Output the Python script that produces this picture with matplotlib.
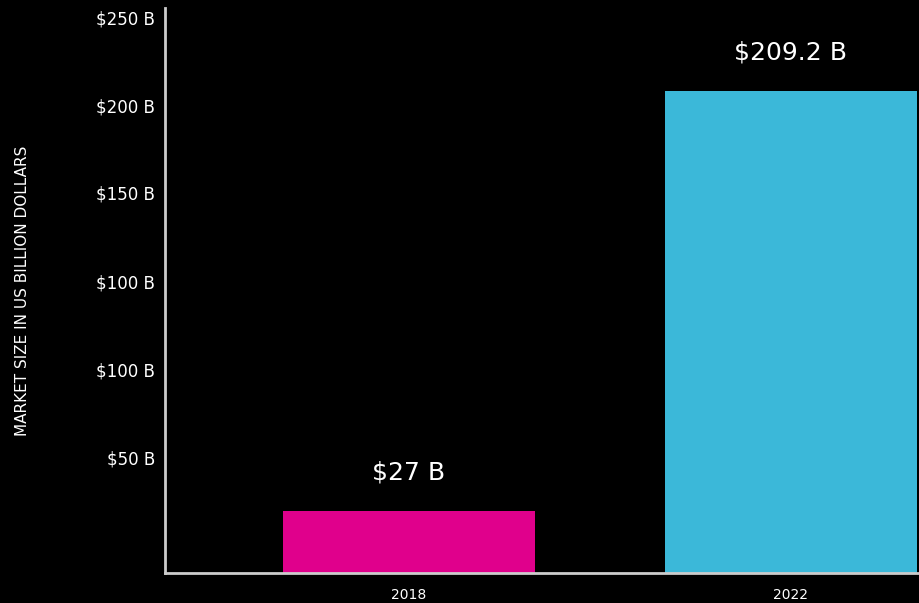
import numpy as np
import matplotlib
matplotlib.use("Agg")
import matplotlib.pyplot as plt

plt.rcParams['font.family'] = ['DejaVu Sans']

# Data
years = ['2018', '2022']
market_size = [27, 209.2]
bar_labels = ['$27 B', '$209.2 B']
bar_colors = ['#E0008C', '#3BB8D9']

# y tick labels as printed in the source (evenly spaced, not tied to values)
ytick_labels = ['$50 B', '$100 B', '$100 B', '$150 B', '$200 B', '$250 B']
ytick_pos = [50.3, 88.5, 126.7, 164.9, 202.7, 240.9]

fig = plt.figure(figsize=(9.2, 6.03), dpi=100, facecolor='black')
ax = fig.add_axes([0.1793, 0.0498, 0.8207, 0.937])
ax.set_facecolor('black')

x = np.arange(len(years))
ax.bar(x, market_size, width=0.66, color=bar_colors)

for xi, v, lab in zip(x, market_size, bar_labels):
    ax.annotate(lab, (xi, v), xytext=(0, 38), textcoords='offset pixels',
                ha='center', va='center', color='white', fontsize=18)

ax.set_xlim(-0.639, 1.338)
ax.set_ylim(0, 245.2)
ax.set_xticks(x)
ax.set_xticklabels(years, color='white', fontsize=10)
ax.set_yticks(ytick_pos)
ax.set_yticklabels(ytick_labels, color='white', fontsize=12)
ax.tick_params(axis='both', length=0)
ax.tick_params(axis='y', pad=7)
ax.tick_params(axis='x', pad=11)

ax.set_ylabel('MARKET SIZE IN US BILLION DOLLARS', color='white', fontsize=11)
ax.yaxis.set_label_coords(-0.179, 0.5)

for s in ['top', 'right']:
    ax.spines[s].set_visible(False)
for s in ['left', 'bottom']:
    ax.spines[s].set_color('#cccccc')
    ax.spines[s].set_linewidth(2)

fig.savefig('out.png', dpi=100, facecolor='black')
